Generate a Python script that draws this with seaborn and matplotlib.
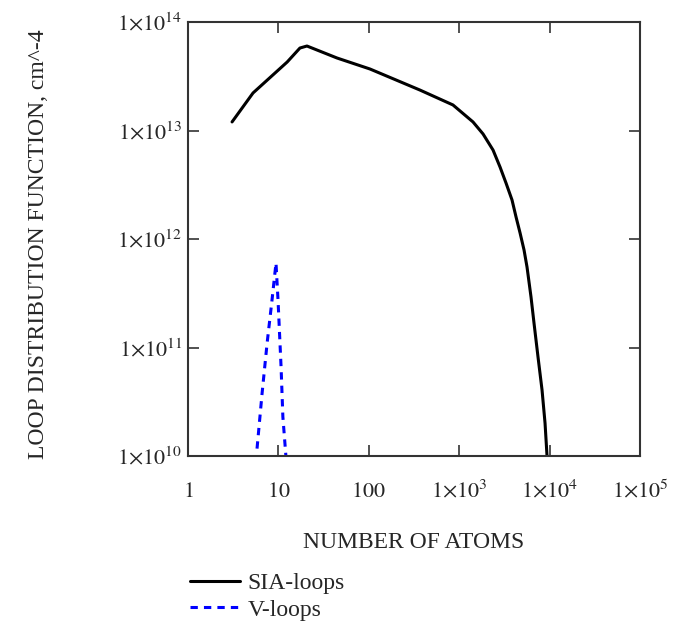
import matplotlib.pyplot as plt
import pandas as pd
import seaborn as sns

# SIA-loop distribution (log-log)
sia_n = [3.07, 5.24, 12.5, 17.3, 20.7, 44.5, 103, 368, 853, 1420, 1834,
         2366, 2828, 3294, 3838, 4249, 4707, 5212, 5623, 6226, 6718, 7441,
         8243, 8898, 9360]
sia_f = [1.20e13, 2.22e13, 4.28e13, 5.76e13, 6.01e13, 4.66e13, 3.69e13,
         2.36e13, 1.72e13, 1.20e13, 9.3e12, 6.61e12, 4.61e12, 3.28e12,
         2.29e12, 1.60e12, 1.14e12, 7.92e11, 5.52e11, 2.92e11, 1.68e11,
         8.17e10, 4.06e10, 2.01e10, 1.0e10]

# V-loop distribution
v_n = [5.8, 6.6, 7.5, 8.5, 9.4, 9.9, 10.7, 11.2, 12.1]
v_f = [1.17e10, 3.8e10, 1.1e11, 2.75e11, 6.0e11, 2.74e11, 6.6e10, 2.3e10, 1.0e10]

xticks = [1, 10, 100, 1e3, 1e4, 1e5]
xlabels = [r"$1$", r"$10$", r"$100$", r"$1{\times}10^{3}$",
           r"$1{\times}10^{4}$", r"$1{\times}10^{5}$"]
yticks = [1e10, 1e11, 1e12, 1e13, 1e14]
ylabels = [r"$1{\times}10^{10}$", r"$1{\times}10^{11}$", r"$1{\times}10^{12}$",
           r"$1{\times}10^{13}$", r"$1{\times}10^{14}$"]

df = pd.concat([
    pd.DataFrame({"n": sia_n, "f": sia_f, "loop": "SIA-loops"}),
    pd.DataFrame({"n": v_n, "f": v_f, "loop": "V-loops"}),
])

sns.set_style("ticks")
plt.rcParams["font.family"] = ["Liberation Serif", "DejaVu Serif"]
plt.rcParams["mathtext.fontset"] = "stix"

fig = plt.figure(figsize=(6.79, 6.24), dpi=100)
ax = fig.add_axes([0.2769, 0.2692, 0.6657, 0.6955])

sns.lineplot(data=df, x="n", y="f", hue="loop", style="loop",
             palette=["black", "#0000ff"],
             dashes={"SIA-loops": "", "V-loops": (2.4, 2.0)},
             linewidth=2.2, estimator=None, ax=ax)

ax.set_xscale("log")
ax.set_yscale("log")
ax.set_xlim(1, 1e5)
ax.set_ylim(1e10, 1e14)
ax.set_xticks(xticks)
ax.set_xticklabels(xlabels, va="baseline")
ax.set_yticks(yticks)
ax.set_yticklabels(ylabels)
ax.minorticks_off()

ax.tick_params(direction="in", length=8, width=1.2, top=True, right=True,
               labelsize=16, color="#333333")
ax.tick_params(axis="x", pad=29.5)
ax.tick_params(axis="y", pad=4)
for s in ax.spines.values():
    s.set_linewidth(1.5)
    s.set_color("#333333")

ax.set_xlabel("NUMBER OF ATOMS", fontsize=17)
ax.set_ylabel("LOOP DISTRIBUTION FUNCTION, cm^-4", fontsize=17)
ax.xaxis.set_label_coords(0.5, -0.175)
ax.yaxis.set_label_coords(-0.3075, 0.487)

h, l = ax.get_legend_handles_labels()
ax.get_legend().remove()
fig.legend(h, l, loc="upper left", bbox_to_anchor=(0.28, 0.082),
           frameon=False, fontsize=17, handlelength=2.1, handletextpad=0.34,
           labelspacing=0.2, borderpad=0, borderaxespad=0)

fig.savefig("out.png", dpi=100)
